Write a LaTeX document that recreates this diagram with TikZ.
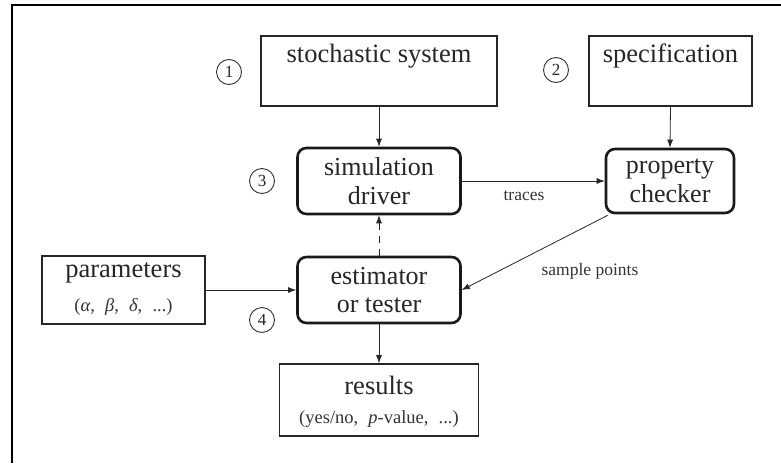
\documentclass[tikz,border=0pt]{standalone}
\usepackage{fontspec}
\setmainfont{Liberation Serif}
\usetikzlibrary{arrows.meta}
\begin{document}
\begin{tikzpicture}[x=1pt,y=-1pt,
  plainbox/.style={draw=black!85, line width=1.6pt, inner sep=0pt},
  roundbox/.style={draw=black!90, line width=2.6pt, rounded corners=9pt, inner sep=0pt, align=center, text=black!85,
    font=\fontsize{26}{28.5}\selectfont},
  bigtext/.style={text=black!85, font=\fontsize{26.5}{28}\selectfont, inner sep=0pt},
  subtext/.style={text=black!80, font=\fontsize{18.5}{20}\selectfont, inner sep=0pt},
  smalltext/.style={text=black!80, font=\fontsize{17.5}{20}\selectfont, inner sep=0pt},
  num/.style={circle, draw=black!80, line width=0.9pt, minimum size=25pt, inner sep=0pt, text=black!85,
    font=\fontsize{17}{17}\selectfont},
  conn/.style={draw=black!85, line width=0.8pt, -{Latex[length=8pt,width=6pt]}}]
\useasboundingbox (0,0) rectangle (781,463);
% frame
\draw[line width=1.5pt] (12,463) -- (12,5) -- (781,5);

% boxes
\node[plainbox, minimum width=236pt, minimum height=70pt] (stoch) at (379,71) {};
\node[bigtext] (stochT) at (379,56) {stochastic system};
\node[plainbox, minimum width=163pt, minimum height=70pt] (spec) at (670.5,71) {};
\node[bigtext] (specT) at (670.5,56) {specification};

\node[roundbox, minimum width=163pt, minimum height=66pt] (sim) at (379,181) {simulation\\driver};
\node[roundbox, minimum width=128pt, minimum height=64pt] (prop) at (670,181) {property\\checker};
\node[roundbox, minimum width=163pt, minimum height=66pt] (est) at (379,290) {estimator\\or tester};

\node[plainbox, minimum width=163pt, minimum height=68pt] (par) at (123.5,290) {};
\node[bigtext] (parT) at (123.5,273) {parameters};
\node[subtext] (parS) at (123.5,307) {(\textit{α},\hspace{0.55em}\textit{β},\hspace{0.55em}\textit{δ},\hspace{0.55em}...)};

\node[plainbox, minimum width=199pt, minimum height=72pt] (res) at (379,400) {};
\node[bigtext] (resT) at (379,385) {results};
\node[subtext] (resS) at (379,419) {(yes/no,\hspace{0.55em}\textit{p}-value,\hspace{0.55em}...)};

% numbers
\node[num] (n1) at (229,72) {1};
\node[num] (n2) at (556,70) {2};
\node[num] (n3) at (262,181) {3};
\node[num] (n4) at (262,320) {4};

% labels
\node[smalltext] (tr) at (524,196) {traces};
\node[smalltext] (sp) at (590,271) {sample points};

% connectors
\draw[conn] (stoch.south) -- (sim.north);
\draw[conn] (spec.south) -- (prop.north);
\draw[conn] (sim.east) -- (prop.west);
\draw[conn, dashed, dash pattern=on 7pt off 6pt] (est.north) -- (sim.south);
\draw[conn] (par.east) -- (est.west);
\draw[conn] ([xshift=3pt,yshift=-1pt]prop.south west) -- (est.east);
\draw[conn] (est.south) -- (res.north);
\end{tikzpicture}
\end{document}
